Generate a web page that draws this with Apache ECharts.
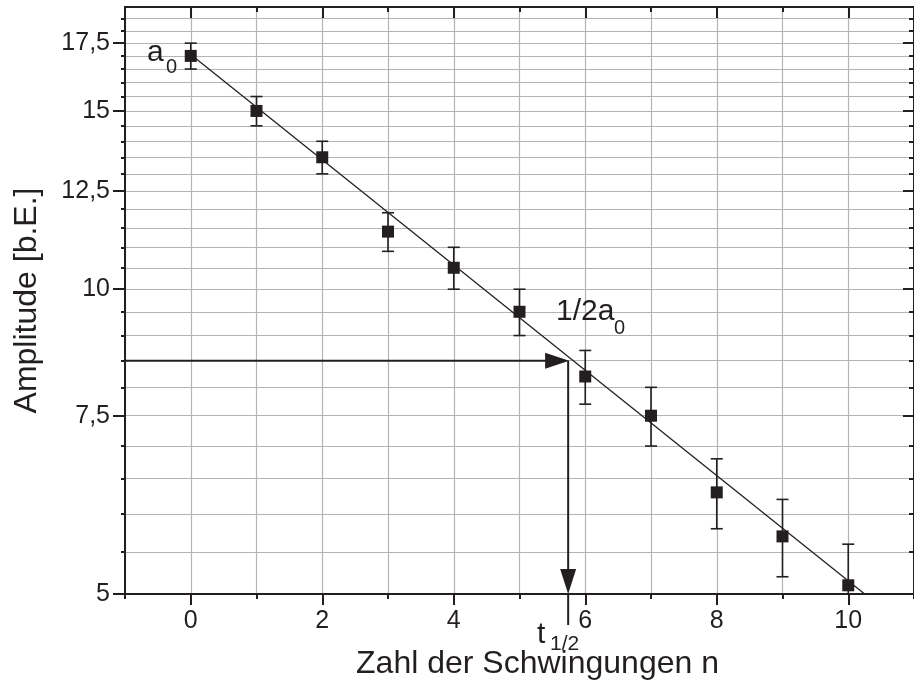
<!DOCTYPE html>
<html><head><meta charset="utf-8">
<script src="https://cdn.jsdelivr.net/npm/echarts@6/dist/echarts.min.js"></script>
<style>html,body{margin:0;padding:0;background:#fff}#c{width:914px;height:686px}</style>
</head><body><div id="c"></div>
<script>
// ---- data ----
const nValues    = [0, 1, 2, 3, 4, 5, 6, 7, 8, 9, 10];
const amplitudes = [17.0, 15.0, 13.5, 11.4, 10.5, 9.5, 8.2, 7.5, 6.3, 5.7, 5.1];
const errors     = [0.5, 0.5, 0.5, 0.5, 0.5, 0.5, 0.5, 0.5, 0.5, 0.5, 0.5];
const fitN       = [0, 10.25];
const fitA       = [17.05, 5.0];
const halfLifeN  = [5.74];
const halfAmp    = [8.5];
const yMajorTicks = [5, 7.5, 10, 12.5, 15, 17.5];
const yMinorTicks = [5, 5.5, 6, 6.5, 7, 7.5, 8, 8.5, 9, 9.5, 10, 10.5, 11, 11.5, 12, 12.5, 13, 13.5, 14, 14.5, 15, 15.5, 16, 16.5, 17, 17.5, 18, 18.5];
const xMajorTicks = [0, 2, 4, 6, 8, 10];
const xMinorTicks = [-1, 0, 1, 2, 3, 4, 5, 6, 7, 8, 9, 10, 11];

const INK = '#231f20';
const FONT = '"Liberation Sans", Arial, sans-serif';
const X_MIN = -1, X_MAX = 11, Y_MIN = 5, Y_MAX = 19;

const chart = echarts.init(document.getElementById('c'), null, {renderer: 'canvas'});

function xAxisDef(pos, ticks, len, inside, extra) {
  return Object.assign({
    type: 'value', position: pos, min: X_MIN, max: X_MAX, gridIndex: 0,
    axisLine: {show: false, onZero: false},
    axisTick: {show: true, customValues: ticks, length: len, inside: inside, lineStyle: {color: INK, width: 2}},
    axisLabel: {show: false},
    splitLine: {show: false}
  }, extra || {});
}
function yAxisDef(pos, ticks, len, inside, extra) {
  return Object.assign({
    type: 'log', logBase: 10, position: pos, min: Y_MIN, max: Y_MAX, gridIndex: 0,
    axisLine: {show: false, onZero: false},
    axisTick: {show: true, customValues: ticks, length: len, inside: inside, lineStyle: {color: INK, width: 2}},
    axisLabel: {show: false},
    splitLine: {show: false}
  }, extra || {});
}

const option = {
  animation: false,
  backgroundColor: '#fff',
  grid: {left: 125, top: 7, width: 792, height: 587, containLabel: false},
  xAxis: [
    xAxisDef('bottom', xMinorTicks, 5, false, {
      axisLine: {show: true, onZero: false, lineStyle: {color: INK, width: 2}},
      axisLabel: {show: true, customValues: xMajorTicks, fontSize: 25, color: INK, fontFamily: FONT, margin: 15},
      splitLine: {show: true, lineStyle: {color: '#b4b4b4', width: 1.2}},
      name: 'Zahl der Schwingungen n', nameLocation: 'middle', nameGap: 54,
      nameTextStyle: {fontSize: 32, color: INK, fontFamily: FONT, padding: [0, 0, 0, 36]}
    }),
    xAxisDef('bottom', xMajorTicks, 11, false),
    xAxisDef('top', xMinorTicks, 5, true, {axisLine: {show: true, onZero: false, lineStyle: {color: INK, width: 2}}}),
    xAxisDef('top', xMajorTicks, 11, true)
  ],
  yAxis: [
    yAxisDef('left', yMinorTicks, 4, false, {
      axisLine: {show: true, onZero: false, lineStyle: {color: INK, width: 2}},
      axisLabel: {show: true, customValues: yMajorTicks, fontSize: 25, color: INK, fontFamily: FONT, margin: 15,
        formatter: v => String(+v.toFixed(2)).replace('.', ',')},
      splitLine: {show: true, lineStyle: {color: '#b4b4b4', width: 1.2}},
      name: 'Amplitude [b.E.]', nameLocation: 'middle', nameGap: 82, nameRotate: 90,
      nameTextStyle: {fontSize: 32, color: INK, fontFamily: FONT}
    }),
    yAxisDef('left', yMajorTicks, 12, false),
    yAxisDef('right', yMinorTicks, 5, true, {axisLine: {show: true, onZero: false, lineStyle: {color: INK, width: 2}}}),
    yAxisDef('right', yMajorTicks, 11, true)
  ],
  series: [
    {
      type: 'line', name: 'fit', xAxisIndex: 0, yAxisIndex: 0,
      data: fitN.map((n, i) => [n, fitA[i]]),
      showSymbol: false, symbol: 'none',
      lineStyle: {color: INK, width: 1.3}, z: 3, silent: true
    },
    {
      type: 'custom', name: 'errors', xAxisIndex: 0, yAxisIndex: 0,
      data: nValues.map((n, i) => [n, amplitudes[i], errors[i]]),
      renderItem: function (params, api) {
        const x = api.value(0), v = api.value(1), e = api.value(2);
        const cs = params.coordSys;
        const top = api.coord([x, v + e]);
        const bot = api.coord([x, v - e]);
        const y1 = Math.max(top[1], cs.y), y2 = Math.min(bot[1], cs.y + cs.height);
        const st = {stroke: INK, lineWidth: 1.6};
        const ch = [{type: 'line', shape: {x1: top[0], y1: y1, x2: top[0], y2: y2}, style: st}];
        if (top[1] >= cs.y) ch.push({type: 'line', shape: {x1: top[0] - 6, y1: top[1], x2: top[0] + 6, y2: top[1]}, style: st});
        if (bot[1] <= cs.y + cs.height) ch.push({type: 'line', shape: {x1: bot[0] - 6, y1: bot[1], x2: bot[0] + 6, y2: bot[1]}, style: st});
        return {type: 'group', children: ch};
      },
      z: 4, silent: true
    },
    {
      type: 'scatter', name: 'Amplitude', xAxisIndex: 0, yAxisIndex: 0,
      data: nValues.map((n, i) => [n, amplitudes[i]]),
      symbol: 'rect', symbolSize: 12,
      itemStyle: {color: INK, opacity: 1}, z: 5, silent: true
    },
    {
      type: 'custom', name: 'halfLife', xAxisIndex: 0, yAxisIndex: 0,
      data: halfLifeN.map((n, i) => [n, halfAmp[i]]),
      renderItem: function (params, api) {
        const cs = params.coordSys;
        const p = api.coord([api.value(0), api.value(1)]);
        const base = api.coord([api.value(0), Y_MIN]);
        const st = {stroke: INK, lineWidth: 2};
        return {type: 'group', children: [
          {type: 'line', shape: {x1: cs.x, y1: p[1], x2: p[0] - 22, y2: p[1]}, style: st},
          {type: 'polygon', shape: {points: [[p[0] + 1, p[1]], [p[0] - 23, p[1] - 8], [p[0] - 23, p[1] + 8]]}, style: {fill: INK}},
          {type: 'line', shape: {x1: p[0], y1: p[1], x2: p[0], y2: base[1] - 24}, style: st},
          {type: 'line', shape: {x1: p[0], y1: base[1], x2: p[0], y2: base[1] + 31}, style: st},
          {type: 'polygon', shape: {points: [[p[0], base[1]], [p[0] - 8, base[1] - 25], [p[0] + 8, base[1] - 25]]}, style: {fill: INK}}
        ]};
      },
      z: 6, silent: true
    }
  ],
  graphic: [
    {type: 'text', left: 147, top: 38, style: {text: 'a', font: '30px ' + FONT, fill: INK}, z: 10},
    {type: 'text', left: 166, top: 57, style: {text: '0', font: '20px ' + FONT, fill: INK}, z: 10},
    {type: 'text', left: 556, top: 297, style: {text: '1/2a', font: '30px ' + FONT, fill: INK}, z: 10},
    {type: 'text', left: 614, top: 318, style: {text: '0', font: '20px ' + FONT, fill: INK}, z: 10},
    {type: 'text', left: 537, top: 620, style: {text: 't', font: '30px ' + FONT, fill: INK}, z: 10},
    {type: 'text', left: 550, top: 634, style: {text: '1/2', font: '21px ' + FONT, fill: INK}, z: 10}
  ]
};
chart.setOption(option);
</script>
</body></html>
